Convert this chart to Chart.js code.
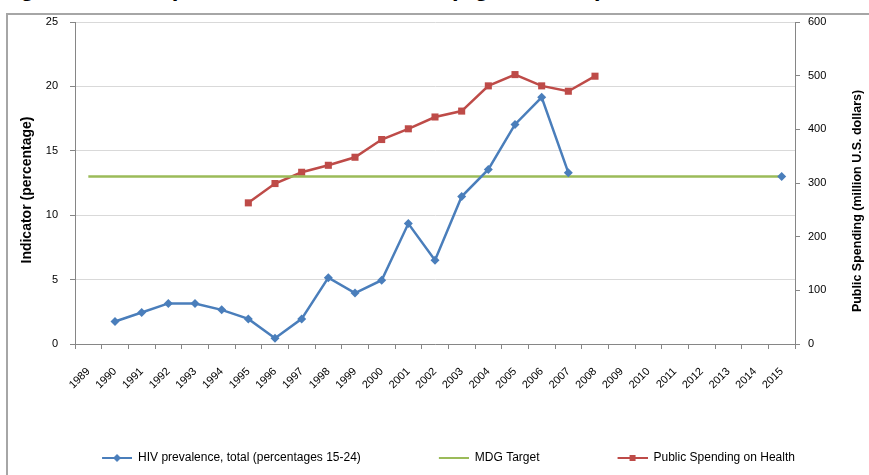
<!DOCTYPE html>
<html>
<head>
<meta charset="utf-8">
<script src="https://cdn.jsdelivr.net/npm/chart.js@4.4.1/dist/chart.umd.min.js"></script>
<style>
html,body{margin:0;padding:0;background:#fff;overflow:hidden;}
#wrap{position:relative;width:869px;height:475px;overflow:hidden;background:#fff;}
#title{position:absolute;left:-1px;top:-24px;font:bold 24px "Liberation Sans",Arial,sans-serif;line-height:24px;white-space:nowrap;color:#000;word-spacing:6px;}
#frame{position:absolute;left:6px;top:13px;width:900px;height:520px;border:2px solid #a6a6a6;box-sizing:border-box;}
#c{position:absolute;left:0;top:0;}
</style>
</head>
<body>
<div id="wrap">
  <div id="title">Figure 3: HIV prevalence, 1990–2015 (Ages 15–24)</div>
  <div id="frame"></div>
  <canvas id="c" width="869" height="475"></canvas>
</div>
<script>
// ---- data ----
const years = ['1989','1990','1991','1992','1993','1994','1995','1996','1997','1998','1999','2000','2001','2002','2003','2004','2005','2006','2007','2008','2009','2010','2011','2012','2013','2014','2015'];
const hivPrevalence = [null,1.75,2.45,3.15,3.15,2.65,1.95,0.45,1.95,5.15,3.95,4.95,9.35,6.5,11.45,13.55,17.05,19.15,13.3,null,null,null,null,null,null,null,13.0];
const mdgTarget = [13,13,13,13,13,13,13,13,13,13,13,13,13,13,13,13,13,13,13,13,13,13,13,13,13,13,13];
const publicSpending = [null,null,null,null,null,null,263,299,320,333,348,381,401,423,434,481,502,481,471,499,null,null,null,null,null,null,null];
const leftTicks = [0,5,10,15,20,25];
const rightTicks = [0,100,200,300,400,500,600];
const seriesNames = ['HIV prevalence, total (percentages 15-24)','MDG Target','Public Spending on Health'];
const axisTitles = ['Indicator (percentage)','Public Spending (million U.S. dollars)'];

const FONT = '"Liberation Sans", Arial, sans-serif';
const BLUE = '#4a7ebb', GREEN = '#9bbb59', RED = '#be4b48', AXIS = '#868686', GRID = '#d9d9d9';

function legendIcon(color, marker) {
  const c = document.createElement('canvas');
  c.width = 50; c.height = 10;
  const g = c.getContext('2d');
  g.strokeStyle = color; g.lineWidth = 2;
  g.beginPath(); g.moveTo(20, 5); g.lineTo(50, 5); g.stroke();
  g.fillStyle = color;
  if (marker === 'diamond') {
    g.beginPath(); g.moveTo(35, 1); g.lineTo(39, 5); g.lineTo(35, 9); g.lineTo(31, 5); g.closePath(); g.fill();
  } else if (marker === 'square') {
    g.fillRect(32, 2, 6, 6);
  }
  return c;
}
const icons = [legendIcon(BLUE, 'diamond'), legendIcon(GREEN, null), legendIcon(RED, 'square')];

const axisTitlePlugin = {
  id: 'axisTitles',
  afterDraw(chart) {
    const ctx = chart.ctx, a = chart.chartArea;
    ctx.save();
    ctx.font = 'bold 14px ' + FONT;
    ctx.fillStyle = '#000';
    ctx.textAlign = 'center';
    ctx.textBaseline = 'middle';
    ctx.translate(27, (a.top + a.bottom) / 2 + 7);
    ctx.rotate(-Math.PI / 2);
    ctx.fillText(axisTitles[0], 0, 0);
    ctx.restore();
    ctx.save();
    ctx.font = 'bold 12.5px ' + FONT;
    ctx.fillStyle = '#000';
    ctx.textAlign = 'center';
    ctx.textBaseline = 'middle';
    ctx.translate(chart.width - 11, (a.top + a.bottom) / 2 + 18);
    ctx.rotate(-Math.PI / 2);
    ctx.fillText(axisTitles[1], 0, 0);
    ctx.restore();
  }
};

new Chart(document.getElementById('c'), {
  type: 'line',
  data: {
    labels: years,
    datasets: [
      {
        label: seriesNames[0], data: hivPrevalence, yAxisID: 'y',
        borderColor: BLUE, backgroundColor: BLUE, borderWidth: 2.5,
        pointStyle: 'rectRot', pointRadius: 4.5, pointBorderWidth: 0, pointBackgroundColor: BLUE,
        spanGaps: false, tension: 0
      },
      {
        label: seriesNames[1], data: mdgTarget, yAxisID: 'y',
        borderColor: GREEN, backgroundColor: GREEN, borderWidth: 2.5,
        pointRadius: 0, tension: 0
      },
      {
        label: seriesNames[2], data: publicSpending, yAxisID: 'y1',
        borderColor: RED, backgroundColor: RED, borderWidth: 2.5,
        pointStyle: 'rect', pointRadius: 5, pointBorderWidth: 0, pointBackgroundColor: RED,
        spanGaps: false, tension: 0
      }
    ]
  },
  options: {
    responsive: false,
    animation: false,
    layout: { padding: { left: 8, right: 0, top: 22, bottom: 1 } },
    plugins: {
      tooltip: { enabled: false },
      title: { display: false },
      legend: {
        position: 'bottom',
        labels: {
          usePointStyle: true,
          pointStyleWidth: 50,
          boxHeight: 12,
          padding: 58,
          color: '#000',
          font: { family: FONT, size: 12 },
          generateLabels(chart) {
            const items = Chart.defaults.plugins.legend.labels.generateLabels(chart);
            items.sort((p, q) => p.datasetIndex - q.datasetIndex);
            items.forEach(it => { it.pointStyle = icons[it.datasetIndex]; it.rotation = 0; });
            return items;
          }
        }
      }
    },
    scales: {
      x: {
        type: 'category',
        offset: true,
        grid: { offset: true, drawOnChartArea: false, drawTicks: true, tickLength: 5, color: AXIS, tickColor: AXIS },
        border: { color: AXIS, width: 1 },
        ticks: { autoSkip: false, maxRotation: 45, minRotation: 45, padding: 16, color: '#000', font: { family: FONT, size: 11 } },
        afterFit(s) { s.height = 50; }
      },
      y: {
        position: 'left',
        min: 0, max: 25,
        afterBuildTicks(s) { s.ticks = leftTicks.map(v => ({ value: v })); },
        grid: { color: GRID, lineWidth: 1, drawTicks: true, tickLength: 5, tickColor: AXIS },
        border: { color: AXIS, width: 1 },
        ticks: { padding: 12, color: '#000', font: { family: FONT, size: 11 } },
        afterFit(s) { s.width = 67; }
      },
      y1: {
        position: 'right',
        min: 0, max: 600,
        afterBuildTicks(s) { s.ticks = rightTicks.map(v => ({ value: v })); },
        grid: { drawOnChartArea: false, drawTicks: true, tickLength: 5, tickColor: AXIS },
        border: { color: AXIS, width: 1 },
        ticks: { padding: 8, color: '#000', font: { family: FONT, size: 11 } },
        afterFit(s) { s.width = 74; }
      }
    }
  },
  plugins: [axisTitlePlugin]
});
</script>
</body>
</html>
